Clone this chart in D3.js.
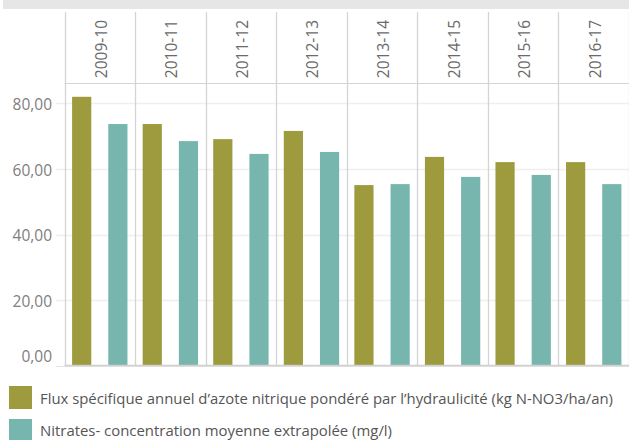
<!DOCTYPE html>
<html>
<head>
<meta charset="utf-8">
<script src="https://cdn.jsdelivr.net/npm/d3@7"></script>
<style>
  body { margin: 0; background: #fff; }
  svg { display: block; font-family: "Open Sans", sans-serif; }
</style>
</head>
<body>
<div id="chart"></div>
<script>
const years = ['2009-10', '2010-11', '2011-12', '2012-13', '2013-14', '2014-15', '2015-16', '2016-17']
const seriesNames = [
  'Flux spécifique annuel d\u2019azote nitrique pondéré par l\u2019hydraulicité (kg N-NO3/ha/an)',
  'Nitrates- concentration moyenne extrapolée (mg/l)'
]
const flux = [82.0, 73.7, 69.1, 71.6, 55.1, 63.7, 62.1, 62.1]
const nitrates = [73.7, 68.5, 64.6, 65.2, 55.4, 57.6, 58.2, 55.4]
const yTicks = [0, 20, 40, 60, 80]
const colors = ['#9e9a3e', '#77b6af']

const data = years.map((y, i) => ({ year: y, values: [flux[i], nitrates[i]] }))

const width = 629, height = 440
const left = 64.5, right = 629, headerTop = 12, plotTop = 83, plotBottom = 366

const svg = d3.select('#chart').append('svg')
  .attr('width', width)
  .attr('height', height)

// top grey band
svg.append('rect')
  .attr('x', 3).attr('y', 0)
  .attr('width', width - 3).attr('height', 9)
  .attr('fill', '#e6e6e6')

const xScale = d3.scaleBand()
  .domain(years)
  .range([left, right])

const innerScale = d3.scaleBand()
  .domain([0, 1])
  .range([0, xScale.bandwidth()])
  .paddingInner(0.47)
  .paddingOuter(0.21)

const yScale = d3.scaleLinear()
  .domain([0, 86.2])
  .range([plotBottom, plotTop])

// gridlines
svg.append('g')
  .selectAll('line')
  .data(yTicks)
  .enter()
  .append('line')
  .attr('x1', 56)
  .attr('x2', right)
  .attr('y1', d => Math.round(yScale(d)) + 0.5)
  .attr('y2', d => Math.round(yScale(d)) + 0.5)
  .attr('stroke', d => d === 0 ? '#e4e4e4' : '#efefef')
  .attr('stroke-width', d => d === 0 ? 1 : 1.5)

// y axis labels
svg.append('g')
  .selectAll('text')
  .data(yTicks)
  .enter()
  .append('text')
  .attr('x', 52)
  .attr('y', d => d === 0 ? 361.5 : yScale(d) + 6.5)
  .attr('text-anchor', 'end')
  .attr('font-size', 15.5)
  .attr('fill', '#808080')
  .text(d => d3.format('.2f')(d).replace('.', ','))

// bars
const groups = svg.append('g')
  .selectAll('g')
  .data(data)
  .enter()
  .append('g')
  .attr('transform', d => `translate(${xScale(d.year)},0)`)

groups.selectAll('rect')
  .data(d => d.values)
  .enter()
  .append('rect')
  .attr('x', (d, i) => innerScale(i))
  .attr('y', d => yScale(d))
  .attr('width', innerScale.bandwidth())
  .attr('height', d => plotBottom - yScale(d))
  .attr('fill', (d, i) => colors[i])

// panel dividers
const dividers = years.map(y => xScale(y)).concat([right - 0.5])
svg.append('g')
  .selectAll('line')
  .data(dividers)
  .enter()
  .append('line')
  .attr('x1', d => Math.round(d) + 0.5)
  .attr('x2', d => Math.round(d) + 0.5)
  .attr('y1', headerTop)
  .attr('y2', plotBottom)
  .attr('stroke', '#d4d4d4')
  .attr('stroke-width', 1.3)

// header bottom line
svg.append('line')
  .attr('x1', left).attr('x2', right)
  .attr('y1', plotTop + 0.5).attr('y2', plotTop + 0.5)
  .attr('stroke', '#d4d4d4')

// baseline
svg.append('line')
  .attr('x1', left).attr('x2', right)
  .attr('y1', plotBottom - 0.5).attr('y2', plotBottom - 0.5)
  .attr('stroke', '#d0d0d0')
  .attr('stroke-width', 1.3)

// header labels
svg.append('g')
  .selectAll('text')
  .data(years)
  .enter()
  .append('text')
  .attr('transform', d => `translate(${xScale(d) + xScale.bandwidth() / 2 + 7}, 20) rotate(270)`)
  .attr('text-anchor', 'end')
  .attr('font-size', 15.5)
  .attr('fill', '#6a6a6a')
  .text(d => d)

// legend
const legendWidths = [573, 352]
const legend = svg.append('g')
  .selectAll('g')
  .data(seriesNames)
  .enter()
  .append('g')
  .attr('transform', (d, i) => `translate(9, ${386 + i * 33})`)

legend.append('rect')
  .attr('width', 23)
  .attr('height', 23)
  .attr('fill', (d, i) => colors[i])

legend.append('text')
  .attr('x', 31)
  .attr('y', (d, i) => i === 0 ? 18 : 17)
  .attr('font-size', 14.8)
  .attr('fill', '#555')
  .attr('textLength', (d, i) => legendWidths[i])
  .attr('lengthAdjust', 'spacingAndGlyphs')
  .text(d => d)
</script>
</body>
</html>
